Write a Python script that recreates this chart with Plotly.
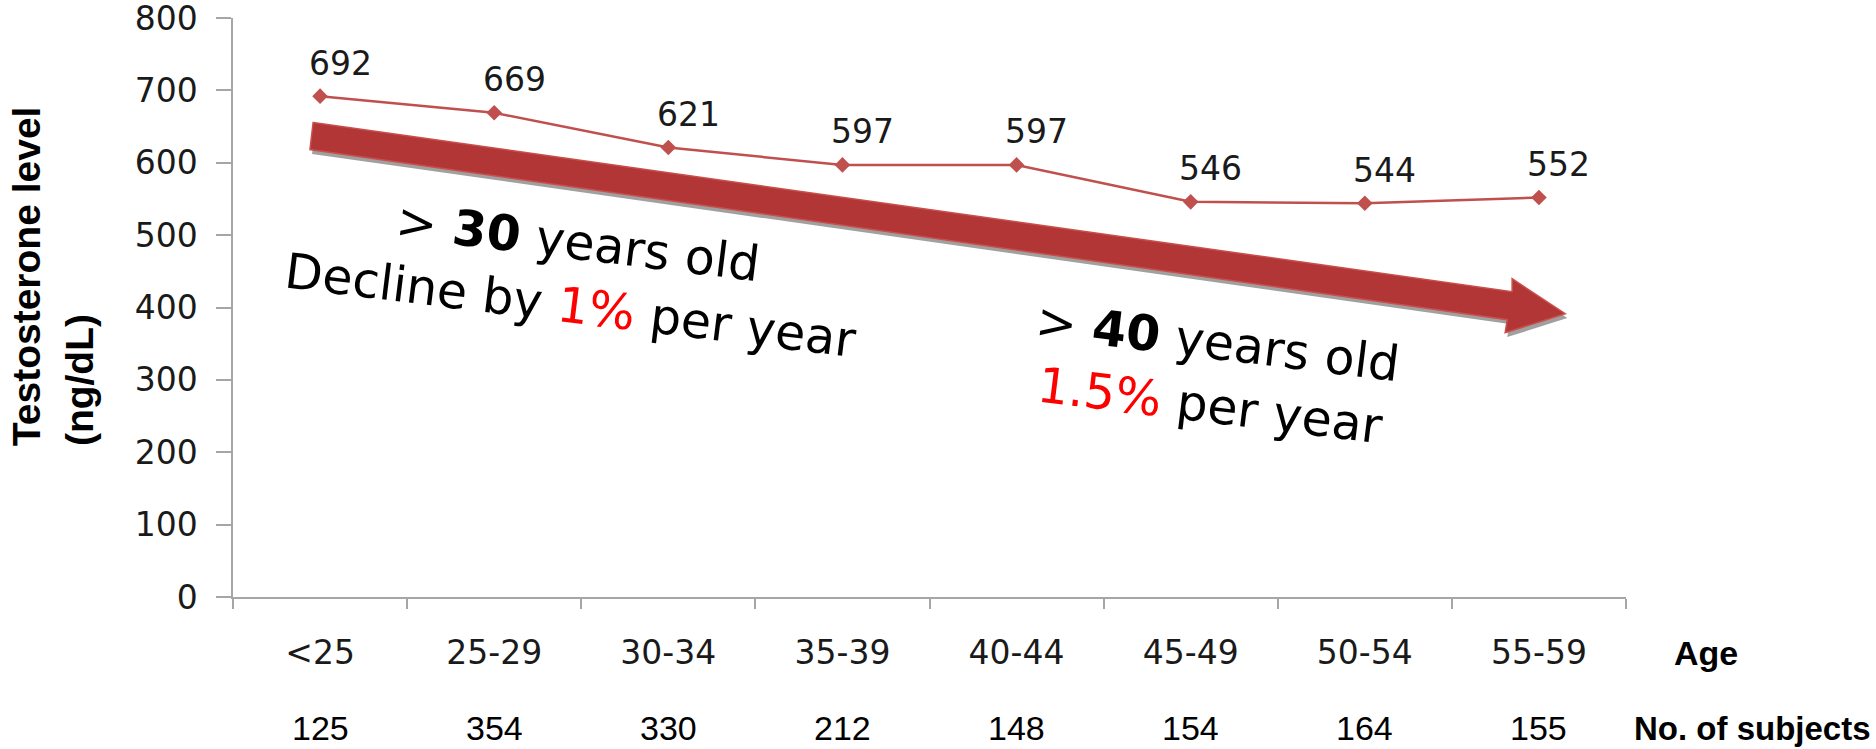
import plotly.graph_objects as go

# ---- data ----
age_groups = ["<25", "25-29", "30-34", "35-39", "40-44", "45-49", "50-54", "55-59"]
testosterone = [692, 669, 621, 597, 597, 546, 544, 552]
subjects = [125, 354, 330, 212, 148, 154, 164, 155]
y_ticks = [0, 100, 200, 300, 400, 500, 600, 700, 800]

# decorative arrow outline (category index, ng/dL)
arrow_x = [-0.040, 6.846, 6.846, 7.151, 6.806, 6.818, -0.058]
arrow_y = [655.5, 421.8, 439.8, 391.4, 365.1, 383.1, 618.2]

AXIS_GREY = "#a6a6a6"
LINE_RED = "#c0504d"
TICK_FONT = dict(family="DejaVu Sans", size=33, color="#1a1a1a")
CAL_FONT = "Liberation Sans, Arial, Noto Sans"

fig = go.Figure()

fig.add_trace(go.Scatter(
    x=age_groups, y=testosterone, mode="lines+markers",
    line=dict(color=LINE_RED, width=2.5),
    marker=dict(symbol="diamond", size=12, color=LINE_RED),
    hoverinfo="skip", showlegend=False,
))

# data labels
for a, v in zip(age_groups, testosterone):
    fig.add_annotation(x=a, y=v, text=str(v), showarrow=False,
                       xshift=20, yshift=33, xanchor="center", yanchor="middle",
                       font=TICK_FONT)

# number of subjects row
for a, n in zip(age_groups, subjects):
    fig.add_annotation(x=a, xref="x", y=-0.227, yref="paper", text=str(n),
                       showarrow=False, xanchor="center", yanchor="middle",
                       font=dict(family=CAL_FONT, size=34, color="#000"))

fig.add_annotation(x=1.0575, xref="paper", y=-0.097, yref="paper", text="<b>Age</b>",
                   showarrow=False, xanchor="center", yanchor="middle",
                   font=dict(family=CAL_FONT, size=34, color="#000"))
fig.add_annotation(x=1.0905, xref="paper", y=-0.227, yref="paper",
                   text="<b>No. of subjects</b>", showarrow=False,
                   xanchor="center", yanchor="middle",
                   font=dict(family=CAL_FONT, size=33, color="#000"))

# y axis title (two lines, bottom aligned)
fig.add_annotation(x=-0.1485, xref="paper", y=0.2573, yref="paper",
                   xanchor="center", yanchor="bottom",
                   text="<b>Testosterone level</b>", textangle=-90, showarrow=False,
                   font=dict(family="Liberation Sans, Arial", size=39, color="#000"))
fig.add_annotation(x=-0.1105, xref="paper", y=0.2573, yref="paper",
                   xanchor="center", yanchor="bottom",
                   text="<b>(ng/dL)</b>", textangle=-90, showarrow=False,
                   font=dict(family="Liberation Sans, Arial", size=39, color="#000"))

# arrow (shadow + body)
def path_from(xs, ys, dx=0.0, dy=0.0):
    pts = [f"{x + dx},{y + dy}" for x, y in zip(xs, ys)]
    return "M " + " L ".join(pts) + " Z"

fig.add_shape(type="path", path=path_from(arrow_x, arrow_y, 0.012, -6),
              xref="x", yref="y", fillcolor="#a0a0a0", line=dict(width=0))
fig.add_shape(type="path", path=path_from(arrow_x, arrow_y),
              xref="x", yref="y", fillcolor="#b23636", line=dict(color="#c8504c", width=1.5))

# text boxes
ANN_FONT = dict(family="DejaVu Sans", size=49, color="#000")
fig.add_annotation(x=1.464, y=445, text="&gt; <b>30</b> years old<br>Decline by <span style='color:#ff0000'>1%</span> per year",
                   showarrow=False, textangle=7, font=ANN_FONT, align="center")
fig.add_annotation(x=5.135, y=308, text="&gt; <b>40</b> years old<br><span style='color:#ff0000'>1.5%</span> per year",
                   showarrow=False, textangle=7, font=ANN_FONT, align="center")

fig.update_layout(
    width=1876, height=749,
    margin=dict(l=233, r=250, t=18, b=152, autoexpand=False),
    paper_bgcolor="white", plot_bgcolor="white",
    showlegend=False,
    xaxis=dict(type="category", range=[-0.5, 7.5], tickson="boundaries",
               ticks="outside", ticklen=10, tickcolor=AXIS_GREY, tickwidth=1.5,
               showline=True, linecolor=AXIS_GREY, linewidth=1.5, showgrid=False,
               tickfont=TICK_FONT, ticklabelstandoff=26, ticklabeloverflow="allow",
               automargin=False),
    yaxis=dict(range=[0, 800], tickvals=y_ticks, ticks="outside", ticklen=15,
               tickcolor=AXIS_GREY, tickwidth=1.5, showline=True, linecolor=AXIS_GREY,
               linewidth=1.5, showgrid=False, zeroline=False, tickfont=TICK_FONT,
               ticklabelstandoff=12, ticklabeloverflow="allow", automargin=False),
)

fig.write_html("out.html", config={"displayModeBar": False},
               post_script="document.body.style.margin='0';document.body.style.overflow='hidden';")
